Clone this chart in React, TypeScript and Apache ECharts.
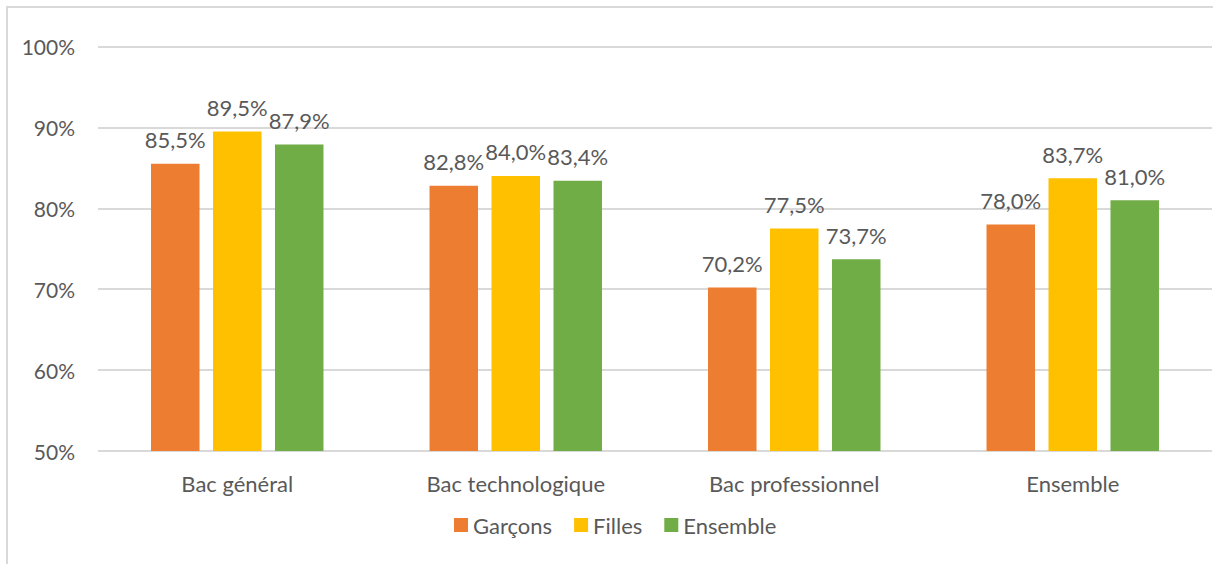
import React, { useEffect, useRef } from "react";
import * as echarts from "echarts";

const categories = ["Bac général", "Bac technologique", "Bac professionnel", "Ensemble"];
const seriesNames = ["Garçons", "Filles", "Ensemble"];
const garcons = [85.5, 82.8, 70.2, 78.0];
const filles = [89.5, 84.0, 77.5, 83.7];
const ensemble = [87.9, 83.4, 73.7, 81.0];
const colors = ["#ED7D31", "#FFC000", "#70AD47"];
const yTicks = { min: 50, max: 100, interval: 10 };

const FONT = "Lato, Carlito, 'Open Sans', sans-serif";
const TEXT = "#595959";

export default function App() {
  const ref = useRef<HTMLDivElement>(null);
  useEffect(() => {
    if (!ref.current) return;
    const chart = echarts.init(ref.current, null, { renderer: "svg" });
    const fmt = (v: number) => v.toFixed(1).replace(".", ",") + "%";
    const mk = (name: string, data: number[], color: string) => ({
      name,
      type: "bar",
      data,
      barWidth: 48.5,
      barGap: "27.8%",
      itemStyle: { color },
      label: {
        show: true,
        position: "top",
        distance: 13,
        color: TEXT,
        fontFamily: FONT,
        fontSize: 22,
        formatter: (p: any) => fmt(p.value),
      },
    });
    chart.setOption({
      animation: false,
      textStyle: { fontFamily: FONT },
      graphic: [
        {
          type: "rect",
          shape: { x: 7, y: 7, width: 1230, height: 600 },
          style: { fill: "none", stroke: "#D9D9D9", lineWidth: 2 },
          silent: true,
        },
      ],
      grid: { left: 98, right: 1, top: 46.5, bottom: 113 },
      legend: {
        left: 454,
        top: 514,
        padding: 0,
        itemWidth: 14,
        itemHeight: 14,
        itemGap: 22,
        icon: "rect",
        textStyle: { color: TEXT, fontFamily: FONT, fontSize: 22 },
        data: seriesNames,
      },
      xAxis: {
        type: "category",
        data: categories,
        axisLine: { show: false },
        axisTick: { show: false },
        axisLabel: { color: TEXT, fontFamily: FONT, fontSize: 22, margin: 21 },
      },
      yAxis: {
        type: "value",
        min: yTicks.min,
        max: yTicks.max,
        interval: yTicks.interval,
        axisLine: { show: false },
        axisTick: { show: false },
        splitLine: { lineStyle: { color: "#D9D9D9", width: 2 } },
        axisLabel: {
          color: TEXT,
          fontFamily: FONT,
          fontSize: 21,
          margin: 23,
          formatter: (v: number) => v + "%",
        },
      },
      series: [
        mk(seriesNames[0], garcons, colors[0]),
        mk(seriesNames[1], filles, colors[1]),
        mk(seriesNames[2], ensemble, colors[2]),
      ],
    });
    return () => chart.dispose();
  }, []);
  return (
    <div
      ref={ref}
      style={{ position: "fixed", left: 0, top: 0, width: 1213, height: 564, background: "#fff" }}
    />
  );
}
